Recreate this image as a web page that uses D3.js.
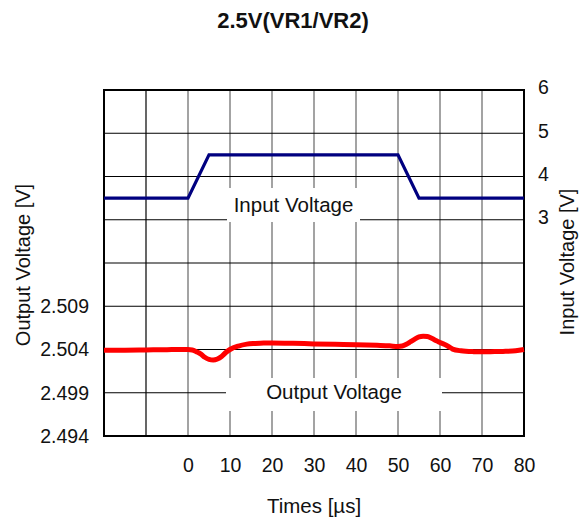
<!DOCTYPE html>
<html><head><meta charset="utf-8">
<script src="https://cdn.jsdelivr.net/npm/d3@7"></script>
<style>body{margin:0;background:#fff}svg{display:block;font-family:"Liberation Sans",Arial,sans-serif}</style>
</head><body><svg id="c" width="586" height="519"></svg>
<script>
const title = "2.5V(VR1/VR2)";
const xTicks = [0,10,20,30,40,50,60,70,80];
const leftTicks = [2.494,2.499,2.504,2.509];
const rightTicks = [3,4,5,6];
const inputTime = [-20,0,5,50,55,80];
const inputV = [3.5,3.5,4.5,4.5,3.5,3.5];
const outTime = [-20,-15,-10,-5,0,1,2,3,4,5,6,7,8,9,10,12,14,16,18,20,25,30,35,40,45,48,50,51,52,53,54,55,56,57,58,59,60,61,62,63,65,68,70,72,75,78,80];
const outV = [2.5039,2.50392,2.50395,2.50398,2.5040,2.50395,2.50375,2.5035,2.5031,2.50285,2.50278,2.5029,2.5032,2.50365,2.5040,2.5044,2.50462,2.5047,2.50475,2.50476,2.50472,2.50465,2.5046,2.50456,2.50448,2.50442,2.50435,2.5044,2.5046,2.5049,2.5052,2.50545,2.50554,2.5055,2.5053,2.50505,2.5048,2.5046,2.50435,2.50405,2.50385,2.50375,2.50373,2.50375,2.50378,2.50385,2.5040];

const svg = d3.select("#c");
const L=104,R=524,T=90,B=436;
const x = d3.scaleLinear().domain([-20,80]).range([L,R]);
const yL = d3.scaleLinear().domain([2.494,2.534]).range([B,T]);
const yR = d3.scaleLinear().domain([-2,6]).range([B,T]);

// grid
const g = svg.append("g");
g.selectAll(".vg").data(d3.range(-10,80,10)).join("line")
 .attr("x1",d=>x(d)).attr("x2",d=>x(d)).attr("y1",T).attr("y2",B)
 .attr("stroke",d=>d<=-10?"#000":"#666").attr("stroke-width",1.2);
g.selectAll(".hg").data(d3.range(1,8)).join("line")
 .attr("x1",L).attr("x2",R).attr("y1",d=>yR(-2+d)).attr("y2",d=>yR(-2+d))
 .attr("stroke","#000").attr("stroke-width",1.2);

// label boxes
svg.append("rect").attr("x",227).attr("y",188).attr("width",133).attr("height",34).attr("fill","#fff");
svg.append("rect").attr("x",226).attr("y",378).attr("width",216).attr("height",33).attr("fill","#fff");
svg.append("text").attr("x",293.5).attr("y",212).attr("text-anchor","middle").attr("font-size",20.5).attr("fill","#111").text("Input Voltage");
svg.append("text").attr("x",334).attr("y",399).attr("text-anchor","middle").attr("font-size",20.5).attr("fill","#111").text("Output Voltage");

// frame
svg.append("rect").attr("x",L).attr("y",T).attr("width",R-L).attr("height",B-T).attr("fill","none").attr("stroke","#000").attr("stroke-width",2);

// lines
svg.append("path").datum(d3.zip(inputTime,inputV))
 .attr("d",d3.line().x(d=>x(d[0])).y(d=>yR(d[1])))
 .attr("fill","none").attr("stroke","#000080").attr("stroke-width",3.2);
svg.append("path").datum(d3.zip(outTime,outV))
 .attr("d",d3.line().curve(d3.curveMonotoneX).x(d=>x(d[0])).y(d=>yL(d[1])))
 .attr("fill","none").attr("stroke","#ff0000").attr("stroke-width",5);

// axes
const ax = svg.append("g").attr("transform",`translate(0,${B})`)
 .call(d3.axisBottom(x).tickValues(xTicks).tickSize(0).tickPadding(22));
const axl = svg.append("g").attr("transform",`translate(${L},0)`)
 .call(d3.axisLeft(yL).tickValues(leftTicks).tickFormat(d3.format(".3f")).tickSize(0).tickPadding(15));
const axr = svg.append("g").attr("transform",`translate(${R},0)`)
 .call(d3.axisRight(yR).tickValues(rightTicks).tickSize(0).tickPadding(14));
[ax,axl,axr].forEach(a=>{a.select(".domain").remove();a.selectAll("text").attr("font-size",19.5).attr("fill","#111").attr("font-family","Liberation Sans, Arial, sans-serif");});
axr.selectAll("text").attr("dy","0.2em");

svg.append("text").attr("x",293).attr("y",28).attr("text-anchor","middle").attr("font-size",22).attr("font-weight","bold").attr("fill","#111").text(title);
svg.append("text").attr("x",314).attr("y",513).attr("text-anchor","middle").attr("font-size",20.5).attr("fill","#111").text("Times [µs]");
svg.append("text").attr("transform","translate(30,265) rotate(-90)").attr("text-anchor","middle").attr("font-size",20).attr("fill","#111").text("Output Voltage [V]");
svg.append("text").attr("transform","translate(574,262) rotate(-90)").attr("text-anchor","middle").attr("font-size",20).attr("fill","#111").text("Input Voltage [V]");
</script></body></html>
